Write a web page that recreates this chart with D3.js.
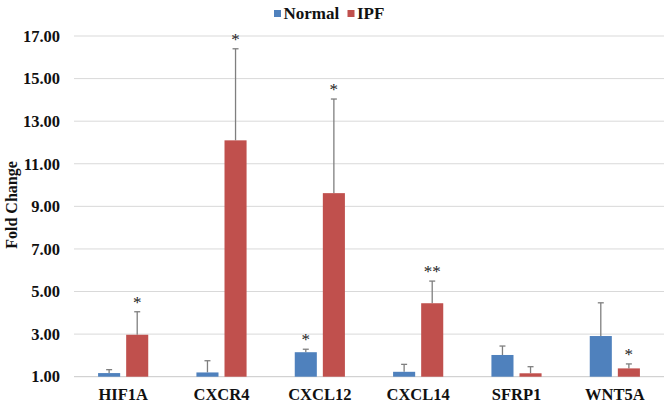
<!DOCTYPE html>
<html><head><meta charset="utf-8">
<script src="https://cdn.jsdelivr.net/npm/d3@7"></script>
<style>body{margin:0;background:#fff}svg{display:block}</style>
</head><body><svg id="c" width="666" height="404"></svg>
<script>
const categories = ["HIF1A","CXCR4","CXCL12","CXCL14","SFRP1","WNT5A"];
const seriesNames = ["Normal","IPF"];
const normalValues = [1.17, 1.20, 2.15, 1.23, 2.02, 2.91];
const normalErrTop = [1.33, 1.75, 2.29, 1.58, 2.44, 4.47];
const ipfValues = [2.97, 12.10, 9.62, 4.45, 1.16, 1.39];
const ipfErrTop = [4.05, 16.40, 14.04, 5.49, 1.47, 1.60];
const normalStars = ["", "", "*", "", "", ""];
const ipfStars = ["*", "*", "*", "**", "", "*"];
const yTicks = [1, 3, 5, 7, 9, 11, 13, 15, 17];
const colors = ["#4F81BD", "#C0504D"];

const svg = d3.select("#c");
const font = "'Liberation Serif','Times New Roman',serif";
const x0 = d3.scaleBand().domain(categories).range([74, 664]);
const x1 = d3.scaleBand().domain(seriesNames).range([x0.bandwidth()*0.245, x0.bandwidth()*0.755]).paddingInner(0.214);
const y = d3.scaleLinear().domain([1, 17]).range([376.7, 36]);

svg.append("g").selectAll("line").data(yTicks).join("line")
  .attr("x1", 74).attr("x2", 664)
  .attr("y1", d => y(d)).attr("y2", d => y(d))
  .attr("stroke", d => d === 1 ? "#c8c8c8" : "#d9d9d9").attr("stroke-width", 1);

svg.append("g").selectAll("text").data(yTicks).join("text")
  .attr("x", 60).attr("y", d => y(d)).attr("dy", "0.35em")
  .attr("text-anchor", "end").attr("font-family", font).attr("font-weight", "bold")
  .attr("font-size", 16.5).attr("fill", "#111").text(d => d.toFixed(2));

svg.append("text").attr("transform", "translate(17,205) rotate(-90)")
  .attr("text-anchor", "middle").attr("font-family", font).attr("font-weight", "bold")
  .attr("font-size", 16).attr("fill", "#111").text("Fold Change");

svg.append("g").selectAll("text").data(categories).join("text")
  .attr("x", d => x0(d) + x0.bandwidth()/2).attr("y", 399.5)
  .attr("text-anchor", "middle").attr("font-family", font).attr("font-weight", "bold")
  .attr("font-size", 16.5).attr("fill", "#111").text(d => d);

const series = [
  {name: "Normal", vals: normalValues, err: normalErrTop, stars: normalStars},
  {name: "IPF", vals: ipfValues, err: ipfErrTop, stars: ipfStars}
];
series.forEach((s, si) => {
  const g = svg.append("g");
  const data = categories.map((c, i) => ({c, v: s.vals[i], e: s.err[i], st: s.stars[i]}));
  const cx = d => x0(d.c) + x1(s.name) + x1.bandwidth()/2;
  g.selectAll("line.e").data(data).join("line").attr("class", "e")
    .attr("x1", cx).attr("x2", cx).attr("y1", d => y(d.v)).attr("y2", d => y(d.e))
    .attr("stroke", "#7f7f7f").attr("stroke-width", 1.3);
  g.selectAll("line.cap").data(data).join("line").attr("class", "cap")
    .attr("x1", d => cx(d) - 3).attr("x2", d => cx(d) + 3)
    .attr("y1", d => y(d.e)).attr("y2", d => y(d.e))
    .attr("stroke", "#7f7f7f").attr("stroke-width", 1.3);
  g.selectAll("rect").data(data).join("rect")
    .attr("x", d => x0(d.c) + x1(s.name)).attr("width", x1.bandwidth())
    .attr("y", d => y(d.v)).attr("height", d => y(1) - y(d.v))
    .attr("fill", colors[si]);
  g.selectAll("text").data(data.filter(d => d.st)).join("text")
    .attr("x", cx).attr("y", d => y(d.e) - 4)
    .attr("text-anchor", "middle").attr("font-family", font)
    .attr("font-size", 17).attr("fill", "#222").text(d => d.st);
});

const leg = svg.append("g");
const legItems = [{n: "Normal", x: 274}, {n: "IPF", x: 347.5}];
legItems.forEach((it, i) => {
  leg.append("rect").attr("x", it.x).attr("y", 10).attr("width", 7).attr("height", 7).attr("fill", colors[i]);
  leg.append("text").attr("x", it.x + 9.5).attr("y", 18.5).attr("font-family", font)
    .attr("font-weight", "bold").attr("font-size", 17).attr("fill", "#111").text(it.n);
});
</script></body></html>
